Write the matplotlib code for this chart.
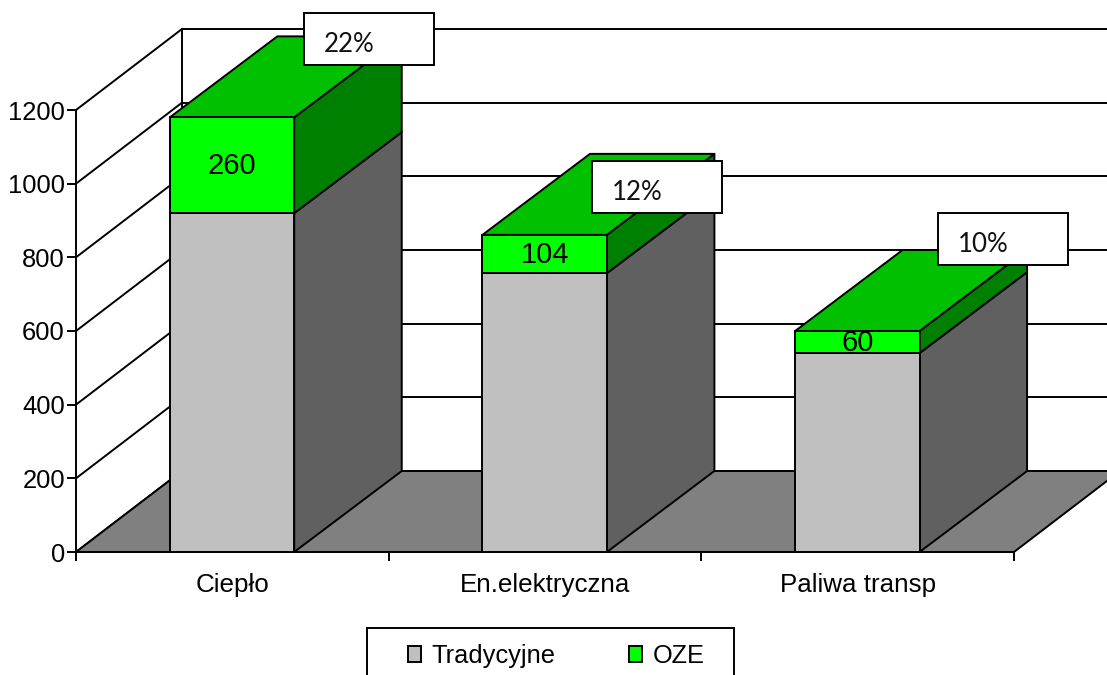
import matplotlib
matplotlib.use("Agg")
import matplotlib.pyplot as plt
from matplotlib.patches import Polygon, Rectangle, Patch

categories = ["Ciepło", "En.elektryczna", "Paliwa transp"]
tradycyjne = [920, 757, 540]
oze = [260, 104, 60]
udzial = ["22%", "12%", "10%"]
y_ticks = [0, 200, 400, 600, 800, 1000, 1200]

W, H = 1107, 675
LEFT, RIGHT, BASE, TOP = 76, 1014, 552, 110
WALL_DX_PX, BAR_DX_PX, DEPTH_Y_PX = 106, 107.5, 81

C_TRAD, C_TRAD_SIDE = "#C0C0C0", "#606060"
C_OZE, C_OZE_TOP, C_OZE_SIDE = "#00FF00", "#00C000", "#008000"
C_FLOOR = "#808080"
LW = 1.4

plt.rcParams["font.family"] = ["Liberation Sans", "DejaVu Sans"]

fig = plt.figure(figsize=(W / 100, H / 100), dpi=100, facecolor="white")
ax = fig.add_axes([LEFT / W, 1 - BASE / H, (RIGHT - LEFT) / W, (BASE - TOP) / H])
ax.set_xlim(0, 3)
ax.set_ylim(0, 1200)
ax.patch.set_visible(False)

ux = 3 / (RIGHT - LEFT)          # data units per pixel, horizontally
uy = 1200 / (BASE - TOP)         # data units per pixel, vertically
wall_dx, bar_dx, dy = WALL_DX_PX * ux, BAR_DX_PX * ux, DEPTH_Y_PX * uy


def px_x(p):
    return (p - LEFT) * ux


def px_y(p):
    return (BASE - p) * uy


def poly(pts, fc, z):
    ax.add_patch(Polygon(pts, closed=True, facecolor=fc, edgecolor="black",
                         linewidth=LW, joinstyle="round", clip_on=False, zorder=z))


# Back wall: gridlines, side wall diagonals and the vertical corner
x_far = px_x(W + 5)
for v in y_ticks:
    ax.plot([0, wall_dx], [v, v + dy], color="black", lw=LW, clip_on=False, zorder=1)
    ax.plot([wall_dx, x_far], [v + dy, v + dy], color="black", lw=LW, clip_on=False, zorder=1)
ax.plot([wall_dx, wall_dx], [dy, 1200 + dy], color="black", lw=LW, clip_on=False, zorder=1)

# Floor
poly([(0, 0), (3, 0), (3 + wall_dx, dy), (wall_dx, dy)], C_FLOOR, 2)

# Bars, each a front face, a side face and a top
bar_l, bar_r = 0.30, 0.698
for i, (t, o) in enumerate(zip(tradycyjne, oze)):
    l, r = i + bar_l, i + bar_r
    s = t + o
    z = 3 + i
    poly([(r, 0), (r + bar_dx, dy), (r + bar_dx, t + dy), (r, t)], C_TRAD_SIDE, z)
    poly([(r, t), (r + bar_dx, t + dy), (r + bar_dx, s + dy), (r, s)], C_OZE_SIDE, z)
    poly([(l, s), (r, s), (r + bar_dx, s + dy), (l + bar_dx, s + dy)], C_OZE_TOP, z)
    ax.add_patch(Rectangle((l, 0), r - l, t, facecolor=C_TRAD, edgecolor="black",
                           lw=LW, clip_on=False, zorder=z))
    ax.add_patch(Rectangle((l, t), r - l, o, facecolor=C_OZE, edgecolor="black",
                           lw=LW, clip_on=False, zorder=z))
    ax.text((l + r) / 2, t + o / 2 - 1.5, str(o), ha="center", va="center",
            fontsize=21, color="black", zorder=z + 0.5)

# Share call-outs: box left and top edges, in pixels
box_w, box_h = 130, 52
box_pos = [(304, 13), (592, 161), (938, 213)]
for (bx, by), label in zip(box_pos, udzial):
    ax.add_patch(Rectangle((px_x(bx), px_y(by + box_h)), box_w * ux, box_h * uy,
                           facecolor="white", edgecolor="black", lw=LW,
                           clip_on=False, zorder=8))
    ax.text(px_x(bx + 45), px_y(by + 32), label, ha="center", va="center",
            fontsize=18.6, family=["Lato", "DejaVu Sans"], color="#111111", zorder=9)

# Axes furniture
for name in ("top", "right"):
    ax.spines[name].set_visible(False)
for name in ("left", "bottom"):
    ax.spines[name].set_linewidth(LW)
    ax.spines[name].set_zorder(7)
    ax.spines[name].set_capstyle("projecting")

ax.set_yticks(y_ticks)
ax.tick_params(axis="y", length=6.5, width=LW, labelsize=18.4, pad=1.5)
ax.set_xticks([0, 1, 2, 3])
ax.set_xticklabels([])
ax.set_xticks([0.5, 1.5, 2.5], labels=categories, minor=True)
ax.tick_params(axis="x", which="major", length=6.5, width=LW)
ax.tick_params(axis="x", which="minor", length=0, labelsize=18.7, pad=15)

# Legend frame runs off the bottom of the figure
ax.add_patch(Rectangle((px_x(367), px_y(H + 10)), 367 * ux, (H + 10 - 628) * uy,
                       facecolor="white", edgecolor="black", lw=LW,
                       clip_on=False, zorder=7))
handles = [Patch(facecolor=C_TRAD, edgecolor="black", lw=LW, label="Tradycyjne"),
           Patch(facecolor=C_OZE, edgecolor="black", lw=LW, label="OZE")]
fig.legend(handles=handles, ncol=2, frameon=False, fontsize=18.3,
           loc="center left", bbox_to_anchor=(408 / W, 1 - 656 / H),
           borderpad=0, borderaxespad=0, handlelength=0.52, handleheight=0.57,
           handletextpad=0.4, columnspacing=2.9)

fig.savefig("out.png", dpi=100, facecolor="white")
